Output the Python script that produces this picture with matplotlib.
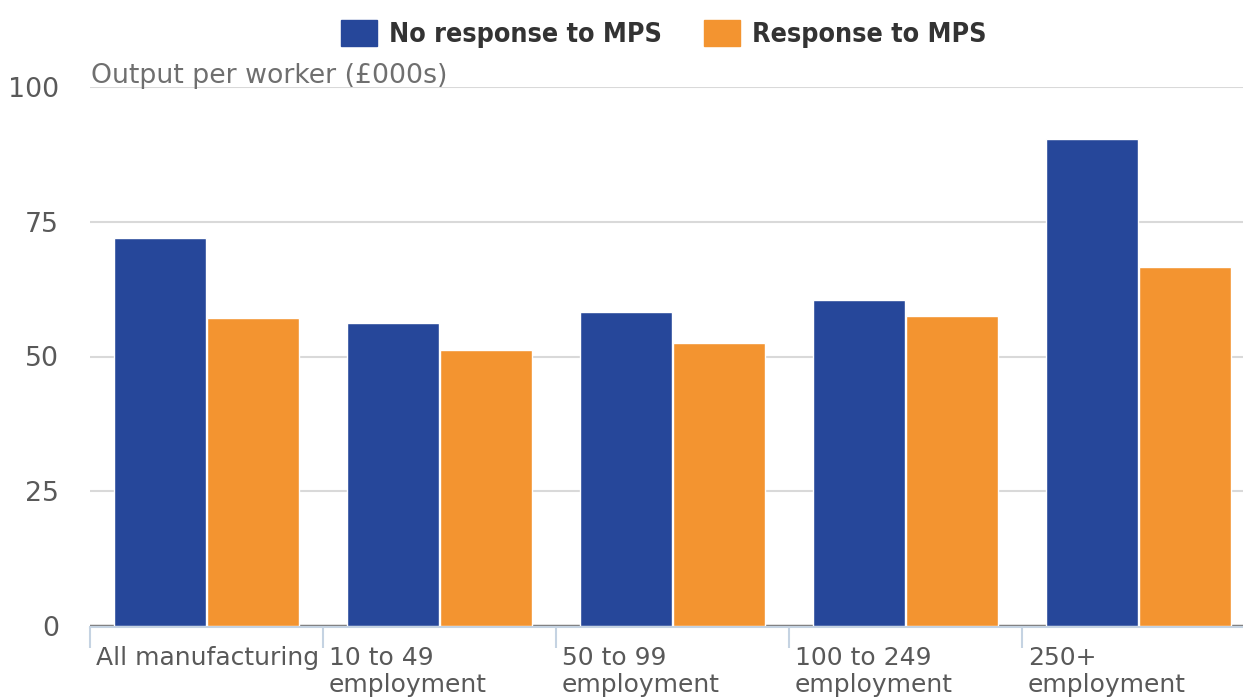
import matplotlib.pyplot as plt
import matplotlib.transforms as mtransforms
from matplotlib.patches import Patch
import numpy as np

plt.rcParams['font.family'] = ['DejaVu Sans']

# Output per worker by firm size, split by response to the management practices survey
categories = ['All manufacturing', '10 to 49\nemployment', '50 to 99\nemployment',
              '100 to 249\nemployment', '250+\nemployment']
no_response = [72.0, 56.2, 58.3, 60.5, 90.4]
response = [57.1, 51.2, 52.5, 57.5, 66.6]
series_names = ['No response to MPS', 'Response to MPS']

blue = '#26479A'
orange = '#F39430'
text_grey = '#595959'

fig = plt.figure(figsize=(12.43, 7.0), dpi=100)
ax = fig.add_axes([90 / 1243, 74 / 700, 1153 / 1243, 539 / 700])

x = np.arange(len(categories))
width = 0.395
ax.bar(x - 0.2, no_response, width, color=blue, edgecolor='white', linewidth=1, zorder=3)
ax.bar(x + 0.2, response, width, color=orange, edgecolor='white', linewidth=1, zorder=3)

ax.set_xlim(-0.5, -0.5 + 1153 / 233)
ax.set_ylim(0, 100)

# horizontal gridlines, darker at zero
for v in [25, 50, 75, 100]:
    ax.axhline(v, color='#d9d9d9', linewidth=1.5, zorder=1)
ax.axhline(0, color='#7f7f7f', linewidth=2.5, zorder=2)

ax.set_yticks([0, 25, 50, 75, 100])
ax.set_yticklabels(['0', '25', '50', '75', '100'])
ax.tick_params(axis='y', length=0, labelsize=19.3, labelcolor=text_grey, pad=22.5)

# category boundaries as ticks, labels left aligned inside each band
ax.set_xticks(np.arange(len(categories)) - 0.5)
ax.set_xticklabels([])
ax.tick_params(axis='x', length=15, width=1.5, color='#c5d3e2')

for s in ['top', 'right', 'left']:
    ax.spines[s].set_visible(False)
ax.spines['bottom'].set_color('#c5d3e2')
ax.spines['bottom'].set_linewidth(1.5)
ax.spines['bottom'].set_position(('outward', 1))

trans = mtransforms.blended_transform_factory(ax.transData, ax.transAxes)
for i, name in enumerate(categories):
    ax.text(i - 0.5 + 0.025, -0.037, name, transform=trans, ha='left', va='top',
            fontsize=18, color=text_grey, linespacing=1.18)

title_trans = mtransforms.offset_copy(ax.transAxes, fig=fig, x=0, y=4, units='dots')
ax.text(1 / 1153, 1.0, 'Output per worker (£000s)', transform=title_trans,
        ha='left', va='baseline', fontsize=19.3, color='#6f6f6f')

handles = [Patch(facecolor=blue, edgecolor=blue), Patch(facecolor=orange, edgecolor=orange)]
fig.legend(handles, series_names, loc='center', bbox_to_anchor=(0.5338, 1 - 34 / 700),
           ncol=2, frameon=False, handlelength=1.34, handleheight=1.12, handletextpad=0.45,
           columnspacing=1.57, prop={'family': 'DejaVu Sans', 'weight': 'bold', 'size': 19.3,
                                     'stretch': 'condensed'},
           labelcolor='#333333')

fig.savefig('out.png', dpi=100)
